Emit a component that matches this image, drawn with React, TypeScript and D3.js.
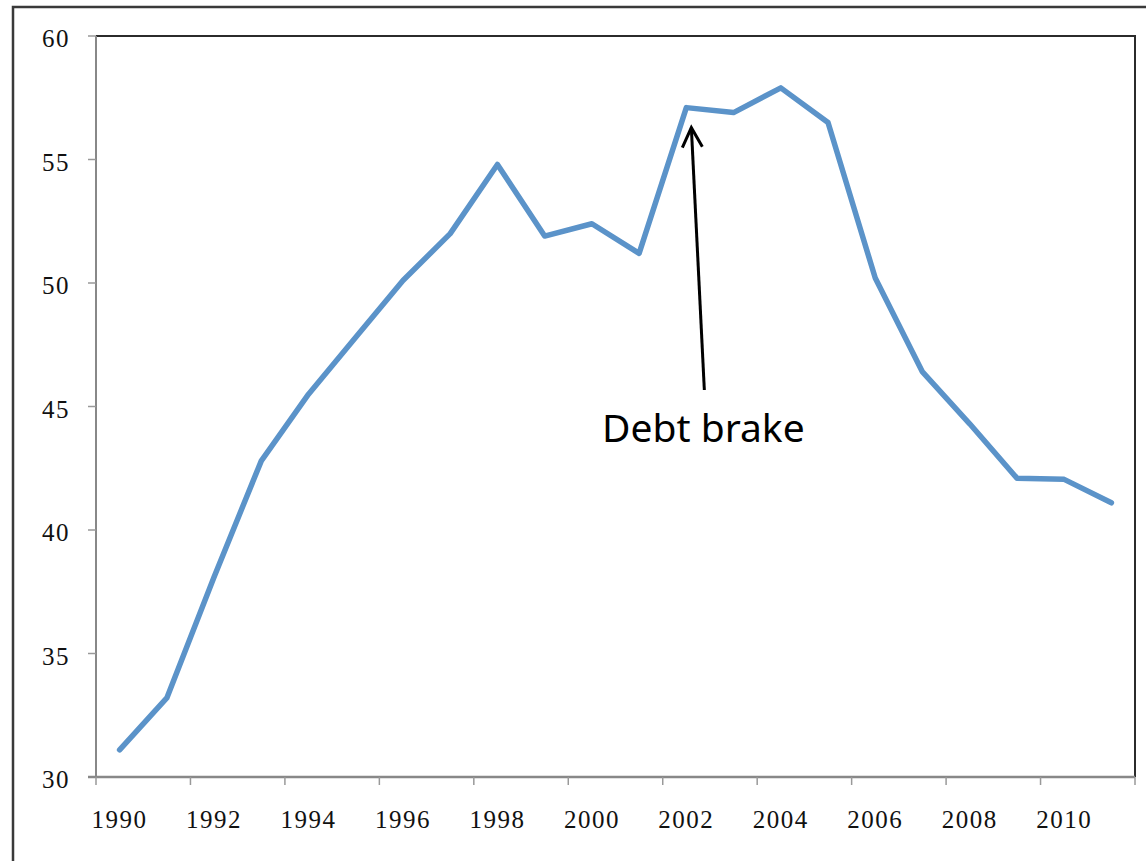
import * as d3 from "d3";

const years = [
  1990, 1991, 1992, 1993, 1994, 1995, 1996, 1997, 1998, 1999, 2000,
  2001, 2002, 2003, 2004, 2005, 2006, 2007, 2008, 2009, 2010, 2011,
];
const debt = [
  31.1, 33.2, 38.1, 42.8, 45.5, 47.8, 50.1, 52.0, 54.8, 51.9, 52.4,
  51.2, 57.1, 56.9, 57.9, 56.5, 50.2, 46.4, 44.3, 42.1, 42.05, 41.1,
];
const yTicks = [30, 35, 40, 45, 50, 55, 60];
const annotation = { label: "Debt brake", year: 2002 };

const W = 1146;
const H = 861;
const m = { left: 96, right: 1135, top: 36, bottom: 777 };

const App = () => {
  const x = d3
    .scaleBand<number>()
    .domain(years)
    .range([m.left, m.right])
    .padding(0);
  const y = d3.scaleLinear().domain([30, 60]).range([m.bottom, m.top]);
  const bw = x.bandwidth();

  const line = d3
    .line<number>()
    .x((_, i) => (x(years[i]) as number) + bw / 2)
    .y((d) => y(d));

  // ticks sit on band edges, every second year, labels centred on the band
  const labelYears = years.filter((_, i) => i % 2 === 0);
  const tickXs = [...labelYears.map((yr) => x(yr) as number), m.right];

  // arrow from the label up to the 2002 point
  const ai = years.indexOf(annotation.year);
  const tipX = (x(annotation.year) as number) + bw / 2 + 5;
  const tipY = y(debt[ai]) + 20;
  const tailX = tipX + 13;
  const tailY = 390;

  const serif = "'Liberation Serif', 'Times New Roman', serif";

  return (
    <svg
      width={W}
      height={H}
      style={{ position: "absolute", left: 0, top: 0, background: "#fff" }}
    >
      {/* outer chart frame */}
      <path d={`M13,${H} V7 H${W}`} fill="none" stroke="#3a3a3a" strokeWidth={2.5} />

      {/* plot frame top/right */}
      <path
        d={`M${m.left},${m.top} H${m.right} V${m.bottom}`}
        fill="none"
        stroke="#2b2b2b"
        strokeWidth={2}
      />

      {/* y axis */}
      <line x1={m.left} x2={m.left} y1={m.top} y2={m.bottom} stroke="#888" strokeWidth={2} />
      {yTicks.map((t) => (
        <g key={t}>
          <line x1={m.left - 8} x2={m.left} y1={y(t)} y2={y(t)} stroke="#999" strokeWidth={1.5} />
          <text
            x={70}
            y={y(t) + 11}
            textAnchor="end"
            fontFamily={serif}
            fontSize={25}
            letterSpacing={1.5}
            fill="#111"
          >
            {t}
          </text>
        </g>
      ))}

      {/* x axis */}
      <line x1={m.left - 8} x2={m.right} y1={m.bottom} y2={m.bottom} stroke="#888" strokeWidth={2.5} />
      {tickXs.map((tx, i) => (
        <line key={i} x1={tx} x2={tx} y1={m.bottom} y2={m.bottom + 8} stroke="#999" strokeWidth={1.5} />
      ))}
      {labelYears.map((yr) => (
        <text
          key={yr}
          x={(x(yr) as number) + bw / 2}
          y={828}
          textAnchor="middle"
          fontFamily={serif}
          fontSize={25}
          letterSpacing={1.5}
          fill="#111"
        >
          {yr}
        </text>
      ))}

      {/* series */}
      <path
        d={line(debt) ?? ""}
        fill="none"
        stroke="#5b93c9"
        strokeWidth={5.5}
        strokeLinejoin="round"
        strokeLinecap="round"
      />

      {/* annotation */}
      <line x1={tailX} y1={tailY} x2={tipX} y2={tipY} stroke="#000" strokeWidth={3} />
      <path
        d={`M${tipX - 9},${tipY + 20} L${tipX},${tipY} L${tipX + 11},${tipY + 19}`}
        fill="none"
        stroke="#000"
        strokeWidth={3}
        strokeLinejoin="miter"
      />
      <text x={602} y={442} fontFamily="'Noto Sans', sans-serif" fontSize={39} fill="#000">
        {annotation.label}
      </text>
    </svg>
  );
};

export default App;
